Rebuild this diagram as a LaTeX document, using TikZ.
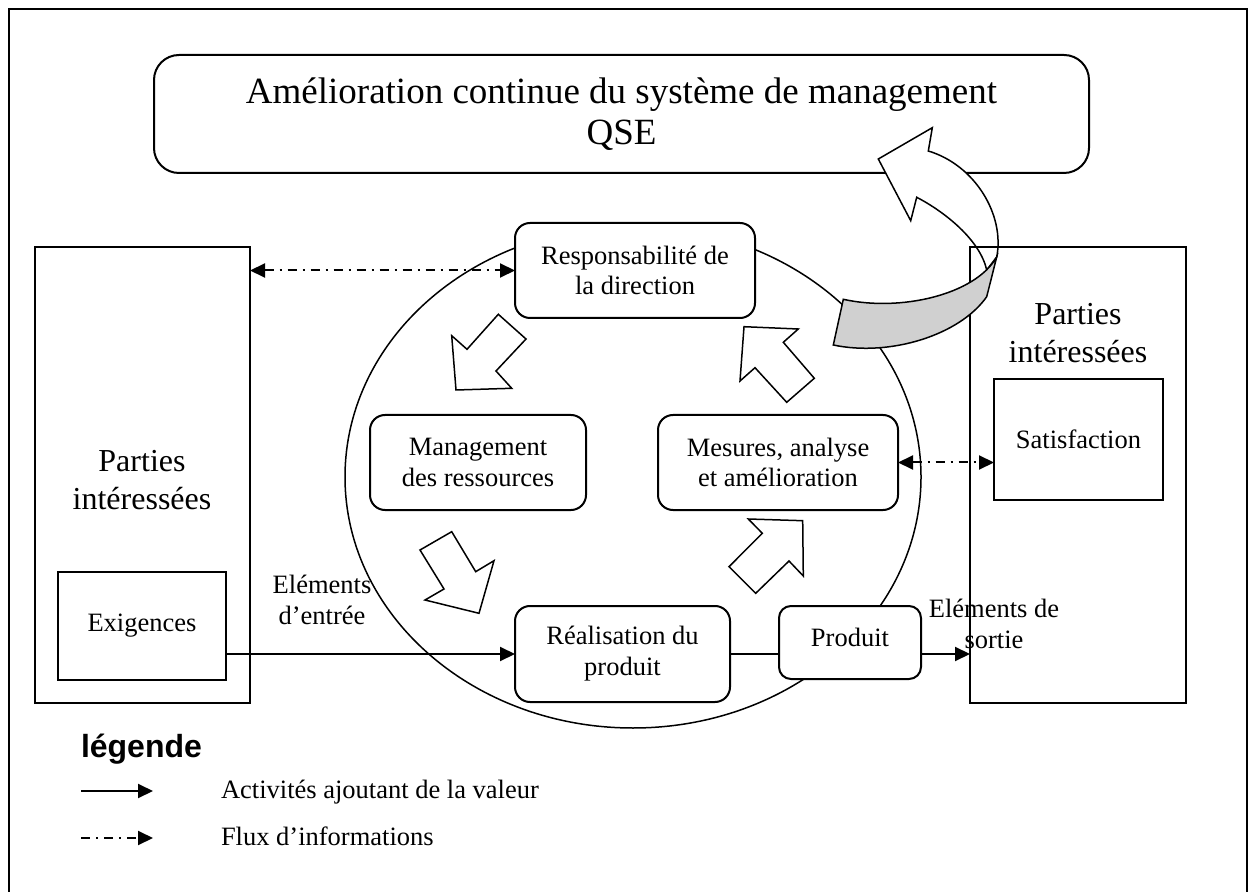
\documentclass[tikz,border=0pt]{standalone}
\usepackage{fontspec}
\setmainfont{Liberation Serif}
\newfontfamily\legendfont{Liberation Sans}
\usetikzlibrary{arrows.meta}
\definecolor{bandgray}{RGB}{208,208,208}

\begin{document}
\begin{tikzpicture}[x=0.5pt,y=-0.5pt,
  every node/.style={inner sep=0pt, outer sep=0pt, align=center},
  box/.style={draw, line width=1pt, fill=white},
  rbox/.style={box, rounded corners=7.5pt},
  txt/.style={font=\fontsize{13.25}{15.4}\selectfont},
  big/.style={font=\fontsize{16}{18.8}\selectfont},
  flow/.style={line width=1pt, -{Triangle[length=7.5pt,width=7pt]}},
  info/.style={line width=1pt, dash pattern=on 4.5pt off 3pt on 1pt off 3pt,
    {Triangle[length=7.5pt,width=7pt]}-{Triangle[length=7.5pt,width=7pt]}},
  infoone/.style={line width=1pt, dash pattern=on 4.5pt off 3pt on 1pt off 3pt,
    -{Triangle[length=7.5pt,width=7pt]}},
  blockarrow/.style={draw, line width=0.75pt, fill=white, line join=miter},
]
\useasboundingbox (0,0) rectangle (1257,892);

% outer frame
\draw[line width=1pt] (9,895) -- (9,9) -- (1247,9) -- (1247,895);

% title
\node[box, rounded corners=12.5pt, minimum width=467.5pt, minimum height=59pt,
      font=\fontsize{18.5}{20.5}\selectfont] (title) at (621.5,114)
  {Amélioration continue du système de management\\QSE};

% process circle
\draw[line width=0.75pt] (633,477) ellipse [x radius=288, y radius=251];

% interested parties, input side
\node[box, fill=none, minimum width=107.5pt, minimum height=228pt] (left) at (142.5,475) {};
\node[big] (lefttxt) at (142,480) {Parties\\intéressées};
\node[box, txt, minimum width=84pt, minimum height=54pt] (exig) at (142,626) {Exigences};

% interested parties, output side
\node[draw=none, minimum width=108pt, minimum height=228pt] (right) at (1078,475) {};
\node[big] (righttxt) at (1078,333) {Parties\\intéressées};
\node[box, txt, minimum width=84.5pt, minimum height=60.5pt] (sat) at (1078.5,439.5) {Satisfaction};

% process boxes
\node[rbox, txt, minimum width=120pt, minimum height=47.5pt] (resp) at (635,270.5)
  {Responsabilité de\\la direction};
\node[rbox, txt, minimum width=108pt, minimum height=47.5pt] (mgmt) at (478,462.5)
  {Management\\des ressources};
\node[rbox, txt, minimum width=120pt, minimum height=47.5pt] (mes) at (778,462.5)
  {Mesures, analyse\\et amélioration};
\node[rbox, txt, minimum width=107.5pt, minimum height=48pt] (real) at (622.5,654)
  {Réalisation du\\produit};
\node[rbox, rounded corners=6pt, minimum width=71pt, minimum height=36.5pt] (prod) at (850,642.5) {};
\node[txt] (prodtxt) at ([yshift=2.5pt]prod.center) {Produit};

% flows
\draw[flow] (real.west -| exig.east) -- (real.west);
\draw[line width=1pt] (real.east) -- (real.east -| prod.west);
\draw[flow] (real.east -| prod.east) -- (real.east -| right.west);
\draw[info] (resp.west -| left.east) -- (resp.west);
\draw[info] (mes.east) -- (mes.east -| sat.west);

\node[txt] (inlbl) at (322,600) {Eléments\\d’entrée};
\node[txt] (outlbl) at (994,624) {Eléments de\\sortie};

% cycle arrows
\draw[blockarrow] (498.3,314.3) -- (526,339) -- (496,371) -- (511.7,388.3)
  -- (456,390) -- (451.7,335.7) -- (467,349.3) -- cycle;
\draw[blockarrow] (420,550) -- (451.7,531.7) -- (475.7,571.7) -- (494,560.7)
  -- (479,613.3) -- (425,600) -- (444,589) -- cycle;
\draw[blockarrow] (748.3,519) -- (802.7,520.7) -- (803.3,576) -- (789,561)
  -- (755.7,593.3) -- (729,566.7) -- (762.3,533.3) -- cycle;
\draw[blockarrow] (744,326.7) -- (798.3,329) -- (783.3,342.3) -- (814.3,378.3)
  -- (786.7,402.3) -- (755,367.7) -- (740,381) -- cycle;

% improvement arrow: front face
\draw[line width=0.75pt, fill=white, line join=miter]
  (996.7,257) .. controls (1005,215) and (975,165) .. (928.3,151)
  -- (932.3,127.7) -- (878.3,159) -- (910.7,220.7) -- (916.7,197.3)
  .. controls (945,212) and (980,240) .. (986.7,270) -- cycle;

% output side frame over the front face
\draw[line width=1pt] (right.south west) rectangle (right.north east);

% improvement arrow: back face
\draw[line width=0.75pt, fill=bandgray, line join=miter]
  (843.3,299.3) .. controls (900,312) and (975,295) .. (996.7,257)
  -- (986.7,296.7) .. controls (960,335) and (890,357) .. (833.3,345) -- cycle;

% legend
\node[anchor=base west, font=\legendfont\bfseries\fontsize{16}{18}\selectfont] (leg) at (81,757) {légende};
\coordinate (la1) at (81,791);
\coordinate (lb1) at (153,791);
\coordinate (la2) at (81,838);
\coordinate (lb2) at (153,838);
\draw[flow] (la1) -- (lb1);
\draw[infoone] (la2) -- (lb2);
\node[txt, anchor=base west] (leg1) at (221,798) {Activités ajoutant de la valeur};
\node[txt, anchor=base west] (leg2) at (221,845) {Flux d’informations};
\end{tikzpicture}
\end{document}
